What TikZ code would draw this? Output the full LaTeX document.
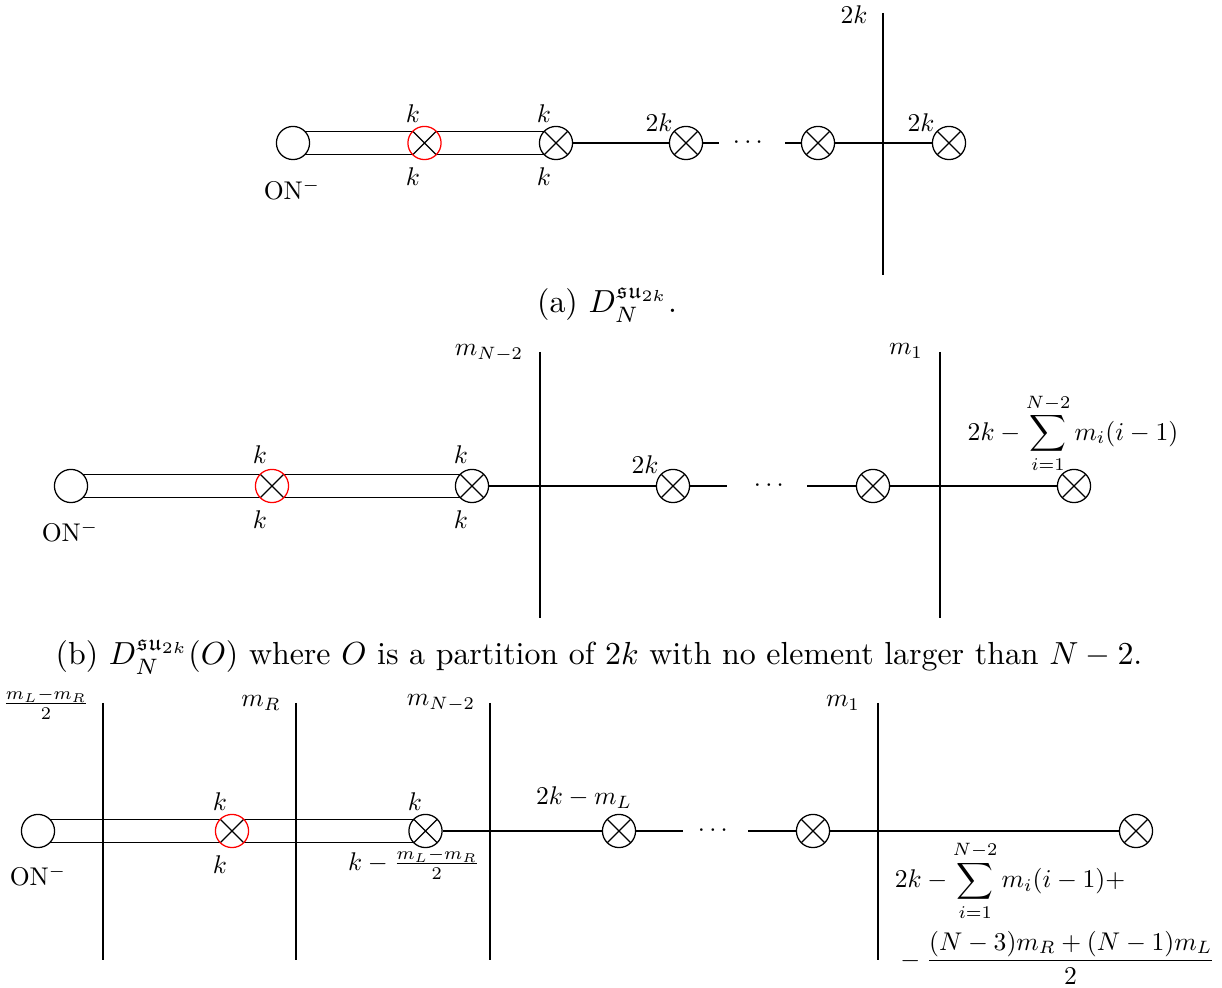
\documentclass[tikz,border=0pt]{standalone}
\usepackage{amsmath,amssymb}
\usetikzlibrary{backgrounds}
\tikzset{
  ocirc/.style={circle, draw, minimum size=10.5pt, inner sep=0pt, fill=white},
  xcirc/.style={ocirc, path picture={\draw[black] (path picture bounding box.north west) -- (path picture bounding box.south east) (path picture bounding box.north east) -- (path picture bounding box.south west);}},
  redx/.style={xcirc, draw=red},
  lab/.style={scale=0.81, inner sep=0pt},
  captext/.style={inner sep=0pt, scale=1.01},
  rail/.style={double, double distance=6.9pt, shorten <=-4pt, shorten >=-4pt},
}
\begin{document}
\begin{tikzpicture}[x=0.3165pt, y=-0.3165pt]
\useasboundingbox (0,0) rectangle (1222,988);
% ---------------- (a)
\node[ocirc] (a0) at (293,143) {};
\node[redx] (a1) at (424.5,143) {};
\node[xcirc] (a2) at (556,143) {};
\node[xcirc] (a3) at (686,143) {};
\coordinate (a3e) at (719,143);
\node[lab] (ad) at (750,143) {$\cdots$};
\coordinate (a4s) at (785,143);
\node[xcirc] (a4) at (818,143) {};
\node[xcirc] (a5) at (949,143) {};
\coordinate (av1) at (883,13);
\coordinate (av2) at (883,275);
\begin{scope}[on background layer]
\draw[rail] (a0) -- (a1);
\draw[rail] (a1) -- (a2);
\end{scope}
\draw (a2) -- (a3);
\draw (a3) -- (a3e);
\draw (a4s) -- (a4);
\draw (a4) -- (a5);
\draw (av1) -- (av2);
\node[lab] (aon) at (292,190) {ON$^-$};
\node[lab] (ak1) at (413,114) {$k$};
\node[lab] (ak2) at (413,177) {$k$};
\node[lab] (ak3) at (544,114) {$k$};
\node[lab] (ak4) at (544,177) {$k$};
\node[lab] (a2k1) at (659,123) {$2k$};
\node[lab] (a2k2) at (854,15) {$2k$};
\node[lab] (a2k3) at (921,123) {$2k$};
\node[captext] (acap) at (607,305) {(a) $D_N^{\mathfrak{su}_{2k}}$.};
% ---------------- (b)
\node[ocirc] (b0) at (71,486) {};
\node[redx] (b1) at (272,486) {};
\node[xcirc] (b2) at (472,486) {};
\node[xcirc] (b3) at (673,486) {};
\coordinate (b3e) at (727,486);
\node[lab] (bd) at (771,486) {$\cdots$};
\coordinate (b4s) at (807,486);
\node[xcirc] (b4) at (873,486) {};
\node[xcirc] (b5) at (1074,486) {};
\coordinate (bv1) at (540,352);
\coordinate (bv2) at (540,618);
\coordinate (bw1) at (940,352);
\coordinate (bw2) at (940,618);
\begin{scope}[on background layer]
\draw[rail] (b0) -- (b1);
\draw[rail] (b1) -- (b2);
\end{scope}
\draw (b2) -- (b3);
\draw (b3) -- (b3e);
\draw (b4s) -- (b4);
\draw (b4) -- (b5);
\draw (bv1) -- (bv2);
\draw (bw1) -- (bw2);
\node[lab] (bon) at (70,532) {ON$^-$};
\node[lab] (bk1) at (260,455) {$k$};
\node[lab] (bk2) at (260,520) {$k$};
\node[lab] (bk3) at (461,455) {$k$};
\node[lab] (bk4) at (461,520) {$k$};
\node[lab] (b2k) at (645,465) {$2k$};
\node[lab] (bm1) at (489,353) {$m_{N-2}$};
\node[lab] (bm2) at (906,351) {$m_1$};
\node[lab] (bsum) at (1073,433) {$\displaystyle 2k-\sum_{i=1}^{N-2} m_i(i-1)$};
\node[captext] (bcap) at (599,657) {(b) $D_N^{\mathfrak{su}_{2k}}(O)$ where $O$ is a partition of $2k$ with no element larger than $N-2$.};
% ---------------- (c)
\node[ocirc] (c0) at (38,831) {};
\node[redx] (c1) at (232,831) {};
\node[xcirc] (c2) at (425.5,831) {};
\node[xcirc] (c3) at (619,831) {};
\coordinate (c3e) at (683,831);
\node[lab] (cd) at (715,831) {$\cdots$};
\coordinate (c4s) at (748,831);
\node[xcirc] (c4) at (813,831) {};
\node[xcirc] (c5) at (1136,831) {};
\coordinate (cv1) at (103,703);
\coordinate (cv2) at (103,960);
\coordinate (cw1) at (296,703);
\coordinate (cw2) at (296,960);
\coordinate (cx1) at (490,703);
\coordinate (cx2) at (490,960);
\coordinate (cy1) at (878,703);
\coordinate (cy2) at (878,960);
\begin{scope}[on background layer]
\draw[rail] (c0) -- (c1);
\draw[rail] (c1) -- (c2);
\end{scope}
\draw (c2) -- (c3);
\draw (c3) -- (c3e);
\draw (c4s) -- (c4);
\draw (c4) -- (c5);
\draw (cv1) -- (cv2);
\draw (cw1) -- (cw2);
\draw (cx1) -- (cx2);
\draw (cy1) -- (cy2);
\node[lab] (con) at (38,876) {ON$^-$};
\node[lab] (cf) at (46,704) {$\frac{m_L-m_R}{2}$};
\node[lab] (cmr) at (261,703) {$m_R$};
\node[lab] (cmn) at (441,703) {$m_{N-2}$};
\node[lab] (cm1) at (843,703) {$m_1$};
\node[lab] (ck1) at (220,802) {$k$};
\node[lab] (ck2) at (220,865) {$k$};
\node[lab] (ck3) at (415,802) {$k$};
\node[lab] (ck4) at (414,864) {$k-\frac{m_L-m_R}{2}$};
\node[lab] (c2k) at (584,798) {$2k-m_L$};
\node[lab] (csum) at (1055,913) {$\begin{aligned}&2k-\sum_{i=1}^{N-2}m_i(i-1)+\\&-\frac{(N-3)m_R+(N-1)m_L}{2}\end{aligned}$};
\end{tikzpicture}
\end{document}
